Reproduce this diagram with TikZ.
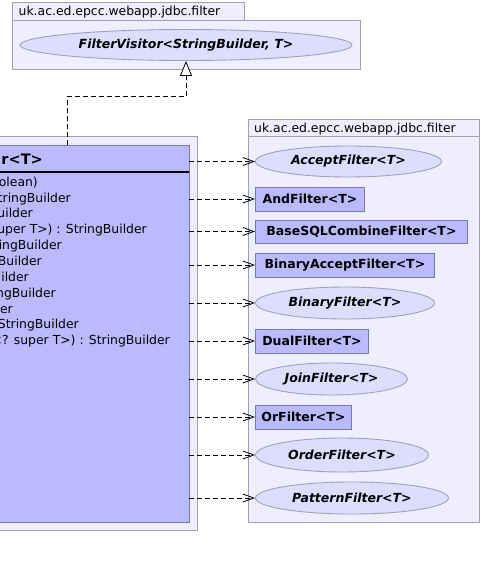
\documentclass[tikz,border=0pt]{standalone}
\usepackage{fontspec}
\setmainfont{DejaVu Sans}
\usetikzlibrary{arrows.meta,shapes.geometric}
\definecolor{pkgfill}{RGB}{238,238,255}
\definecolor{pkgline}{RGB}{160,160,180}
\definecolor{clsfill}{RGB}{186,187,255}
\definecolor{clsline}{RGB}{120,120,170}
\definecolor{elfill}{RGB}{221,222,255}
\definecolor{elline}{RGB}{160,160,185}
\tikzset{
  pkg/.style={draw=pkgline,fill=pkgfill,line width=0.9pt},
  pkglabel/.style={anchor=base west,inner sep=0pt,font=\fontsize{12.4}{14}\selectfont},
  rectnode/.style={draw=clsline,fill=clsfill,line width=0.9pt,anchor=west,minimum height=24pt,inner sep=0pt,font=\bfseries\fontsize{12.5}{14}\selectfont},
  iface/.style={ellipse,draw=elline,fill=elfill,line width=0.9pt,anchor=west,inner sep=0pt,font=\bfseries\itshape\fontsize{12.5}{14}\selectfont},
  meth/.style={anchor=base east,inner sep=0pt,font=\fontsize{12.4}{14}\selectfont},
  dep/.style={draw=black,line width=0.8pt,dash pattern=on 5pt off 3pt,-{Straight Barb[length=11pt,width=8pt]}},
  real/.style={draw=black,line width=0.8pt,dash pattern=on 5pt off 3pt,-{Triangle[open,length=15pt,width=12pt,fill=white]}}
}
\begin{document}
\begin{tikzpicture}[x=1pt,y=-1pt]
\useasboundingbox (0,0) rectangle (482,568);
\clip (0,0) rectangle (482,568);
\fill[white] (0,0) rectangle (482,568);
% top package
\draw[pkg] (12,2) rectangle (244,20);
\draw[pkg] (12,20) rectangle (360,69);
\node[pkglabel] (pk1) at (18.5,15.5) {uk.ac.ed.epcc.webapp.jdbc.filter};
\node[iface,anchor=center,minimum width=332pt,minimum height=31pt] (fv) at (186,45) {FilterVisitor<StringBuilder, T>};
% left package
\draw[pkg] (-10,136) rectangle (197,530);
\node[draw=clsline,fill=clsfill,line width=0.9pt,minimum width=199pt,minimum height=377pt,inner sep=0pt] (cls) at (89.5,333.5) {};
\draw[black,line width=1.6pt] (-10,172) -- (cls.east |- 0,172);
\node[anchor=base east,inner sep=0pt,font=\bfseries\fontsize{14.5}{16}\selectfont] (hdr) at (43,164) {r<T>};
\node[meth] (m1) at (38,186) {olean)};
\node[meth] (m2) at (71,202) {tringBuilder};
\node[meth] (m3) at (33,217.5) {uilder};
\node[meth] (m4) at (147,233.5) {uper T>) : StringBuilder};
\node[meth] (m5) at (62,249.5) {ingBuilder};
\node[meth] (m6) at (42,265.5) {Builder};
\node[meth] (m7) at (29,281) {uilder};
\node[meth] (m8) at (56,297) {ngBuilder};
\node[meth] (m9) at (13,313) {er};
\node[meth] (m10) at (79,328.5) {StringBuilder};
\node[meth] (m11) at (170,344.5) {<? super T>) : StringBuilder};
% right package
\draw[pkg] (248,119) rectangle (479,136);
\draw[pkg] (248,136) rectangle (479,522);
\node[pkglabel] (pk2) at (254,132) {uk.ac.ed.epcc.webapp.jdbc.filter};
\node[iface,minimum width=186pt,minimum height=31pt] (t1) at (255,161.5) {AcceptFilter<T>};
\node[rectnode,minimum width=109pt] (t2) at (255,199) {AndFilter<T>};
\node[rectnode,minimum width=212pt,minimum height=23pt] (t3) at (255,231.5) {BaseSQLCombineFilter<T>};
\node[rectnode,minimum width=179pt] (t4) at (255,265) {BinaryAcceptFilter<T>};
\node[iface,minimum width=179pt,minimum height=32pt] (t5) at (255,303) {BinaryFilter<T>};
\node[rectnode,minimum width=113pt] (t6) at (255,341) {DualFilter<T>};
\node[iface,minimum width=152pt,minimum height=32pt] (t7) at (255,379) {JoinFilter<T>};
\node[rectnode,minimum width=96pt] (t8) at (255,417) {OrFilter<T>};
\node[iface,minimum width=173pt,minimum height=34pt] (t9) at (255,455) {OrderFilter<T>};
\node[iface,minimum width=193pt,minimum height=32pt] (t10) at (255,498) {PatternFilter<T>};
% connectors
\foreach \t in {t1,t2,t3,t4,t5,t6,t7,t8,t9,t10}
  \draw[dep] (cls.east |- \t.west) -- (\t.west);
\draw[real] ([xshift=-22.5pt]cls.north) |- ([yshift=-35.5pt]fv.south) -- (fv.south);
\end{tikzpicture}
\end{document}
